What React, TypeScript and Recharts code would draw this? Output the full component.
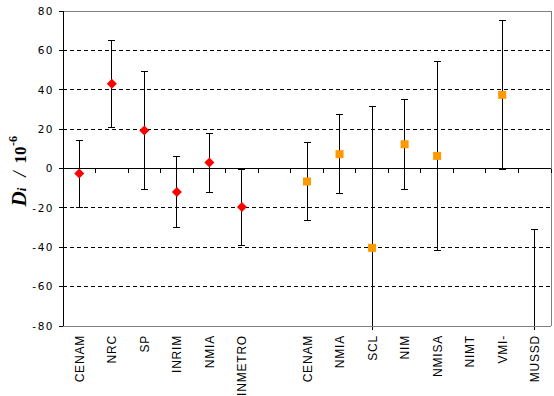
import React from 'react';
import {
  ComposedChart,
  Scatter,
  XAxis,
  YAxis,
  ErrorBar,
  ReferenceLine,
  ReferenceArea,
} from 'recharts';

// ---- data ----
const categories = [
  'CENAM', 'NRC', 'SP', 'INRIM', 'NMIA', 'INMETRO', '',
  'CENAM', 'NMIA', 'SCL', 'NIM', 'NMISA', 'NIMT', 'VMI-', 'MUSSD',
];
const redValues: (number | null)[] = [-2.6, 43, 19.3, -11.9, 3, -19.6, null, null, null, null, null, null, null, null, null];
const redErrors: (number | null)[] = [17, 22, 30, 18, 15, 19.3, null, null, null, null, null, null, null, null, null];
const orangeValues: (number | null)[] = [null, null, null, null, null, null, null, -6.6, 7.3, -40.3, 12.3, 6.4, null, 37.4, -125];
const orangeErrors: (number | null)[] = [null, null, null, null, null, null, null, 20, 20, 71.8, 23, 48, null, 37.7, 94.2];
const yTicks = [-80, -60, -40, -20, 0, 20, 40, 60, 80];
const gridValues = [-60, -40, -20, 20, 40, 60];
const yDomain: [number, number] = [-80, 80];
const xDomain: [number, number] = [-0.5, categories.length - 0.5];

const buildRows = (vals: (number | null)[], errs: (number | null)[]) =>
  vals
    .map((v, i) => ({ x: i, y: v, err: errs[i] }))
    .filter((r) => r.y !== null);

const redRows = buildRows(redValues, redErrors);
const orangeRows = buildRows(orangeValues, orangeErrors);

const DiamondShape = (props: any) => {
  const { cx, cy } = props;
  if (cx == null || cy == null || isNaN(cx) || isNaN(cy)) return <g />;
  const r = 5;
  return (
    <polygon
      points={`${cx},${cy - r} ${cx + r},${cy} ${cx},${cy + r} ${cx - r},${cy}`}
      fill="#FF0000"
      stroke="none"
    />
  );
};

const SquareShape = (props: any) => {
  const { cx, cy } = props;
  if (cx == null || cy == null || isNaN(cx) || isNaN(cy)) return <g />;
  const s = 8;
  return <rect x={cx - s / 2} y={cy - s / 2} width={s} height={s} fill="#FF9900" stroke="none" />;
};

const CatTick = (props: any) => {
  const { x, y, payload } = props;
  const label = categories[payload.value] ?? '';
  return (
    <text
      transform={`translate(${x + 4.5},${y + 9}) rotate(-90)`}
      textAnchor="end"
      fontFamily="'Liberation Sans', Arial, sans-serif"
      fontSize={12}
      letterSpacing={0.8}
      fill="#000"
    >
      {label}
    </text>
  );
};

const YTick = (props: any) => {
  const { x, y, payload } = props;
  return (
    <text
      x={x}
      y={y}
      dy="0.36em"
      textAnchor="end"
      fontFamily="'DejaVu Sans', sans-serif"
      fontSize={10.5}
      letterSpacing={1.5}
      fill="#000"
    >
      {payload.value}
    </text>
  );
};

const ZeroLine = (props: any) => {
  const { x1, y1, x2 } = props;
  const n = categories.length;
  return (
    <g>
      <line x1={x1} y1={y1} x2={x2} y2={y1} stroke="#000" strokeWidth={1} />
      {Array.from({ length: n + 1 }, (_, k) => {
        const tx = x1 + ((x2 - x1) * k) / n;
        return <line key={k} x1={tx} y1={y1} x2={tx} y2={y1 + 4} stroke="#000" strokeWidth={1} />;
      })}
    </g>
  );
};

// invisible area used only to define a clip region matching the plot
const ClipDef = (props: any) => {
  const { x, y, width, height } = props;
  return (
    <defs>
      <clipPath id="plotClipArea" clipPathUnits="userSpaceOnUse">
        <rect x={x - 10} y={y - 10} width={width + 20} height={height + 14} />
      </clipPath>
    </defs>
  );
};

const Title = (props: any) => {
  const vb = props.viewBox || { x: 0, y: 11, width: 63, height: 315 };
  const tx = vb.x + 26;
  const ty = vb.y + vb.height / 2 + 38;
  return (
    <text
      transform={`translate(${tx},${ty}) rotate(-90)`}
      fontFamily="'Liberation Serif', 'Times New Roman', serif"
      fill="#000"
      textAnchor="start"
    >
      <tspan fontSize={21} fontWeight="bold" fontStyle="italic">D</tspan>
      <tspan fontSize={13} fontWeight="bold" fontStyle="italic">i</tspan>
      <tspan fontSize={19} fontStyle="italic" dx={11}>/</tspan>
      <tspan fontSize={17} fontWeight="bold" dx={8}>10</tspan>
      <tspan fontSize={12} fontWeight="bold" dx={0.5} dy={-9}>-6</tspan>
    </text>
  );
};

export default function App() {
  return (
    <div style={{ position: 'absolute', left: 0, top: 0, width: 554, height: 396, background: '#fff' }}>
      <style>{`
        .recharts-wrapper line { shape-rendering: crispEdges; }
        .recharts-errorBar, .recharts-errorBars { clip-path: url(#plotClipArea); }
      `}</style>
      <ComposedChart width={554} height={396} margin={{ top: 11, right: 3, bottom: 0, left: 0 }}>
        <XAxis
          type="number"
          dataKey="x"
          domain={xDomain}
          ticks={categories.map((_, i) => i)}
          interval={0}
          allowDataOverflow
          height={70}
          axisLine={{ stroke: '#808080', strokeWidth: 1 }}
          tickLine={false}
          tickSize={0}
          tickMargin={0}
          tick={<CatTick />}
        />
        <YAxis
          type="number"
          dataKey="y"
          domain={yDomain}
          ticks={yTicks}
          interval={0}
          allowDataOverflow
          width={63}
          axisLine={{ stroke: '#000', strokeWidth: 1 }}
          tickLine={{ stroke: '#000', strokeWidth: 1 }}
          tickSize={4}
          tickMargin={5}
          tick={<YTick />}
          label={{ content: <Title /> }}
        />
        <ReferenceArea
          x1={xDomain[0]}
          x2={xDomain[1]}
          y1={yDomain[0]}
          y2={yDomain[1]}
          shape={<ClipDef />}
          fill="none"
          stroke="none"
        />
        {gridValues.map((v) => (
          <ReferenceLine key={v} y={v} stroke="#000" strokeWidth={1} strokeDasharray="4 3" />
        ))}
        <ReferenceLine y={yDomain[1]} stroke="#808080" strokeWidth={1} />
        <ReferenceLine x={xDomain[1]} stroke="#808080" strokeWidth={1} />
        <ReferenceLine y={0} shape={<ZeroLine />} />
        <Scatter data={redRows} dataKey="y" shape={<DiamondShape />} isAnimationActive={false}>
          <ErrorBar dataKey="err" direction="y" width={3.5} stroke="#000" strokeWidth={1} isAnimationActive={false} />
        </Scatter>
        <Scatter data={orangeRows} dataKey="y" shape={<SquareShape />} isAnimationActive={false}>
          <ErrorBar dataKey="err" direction="y" width={3.5} stroke="#000" strokeWidth={1} isAnimationActive={false} />
        </Scatter>
      </ComposedChart>
    </div>
  );
}
